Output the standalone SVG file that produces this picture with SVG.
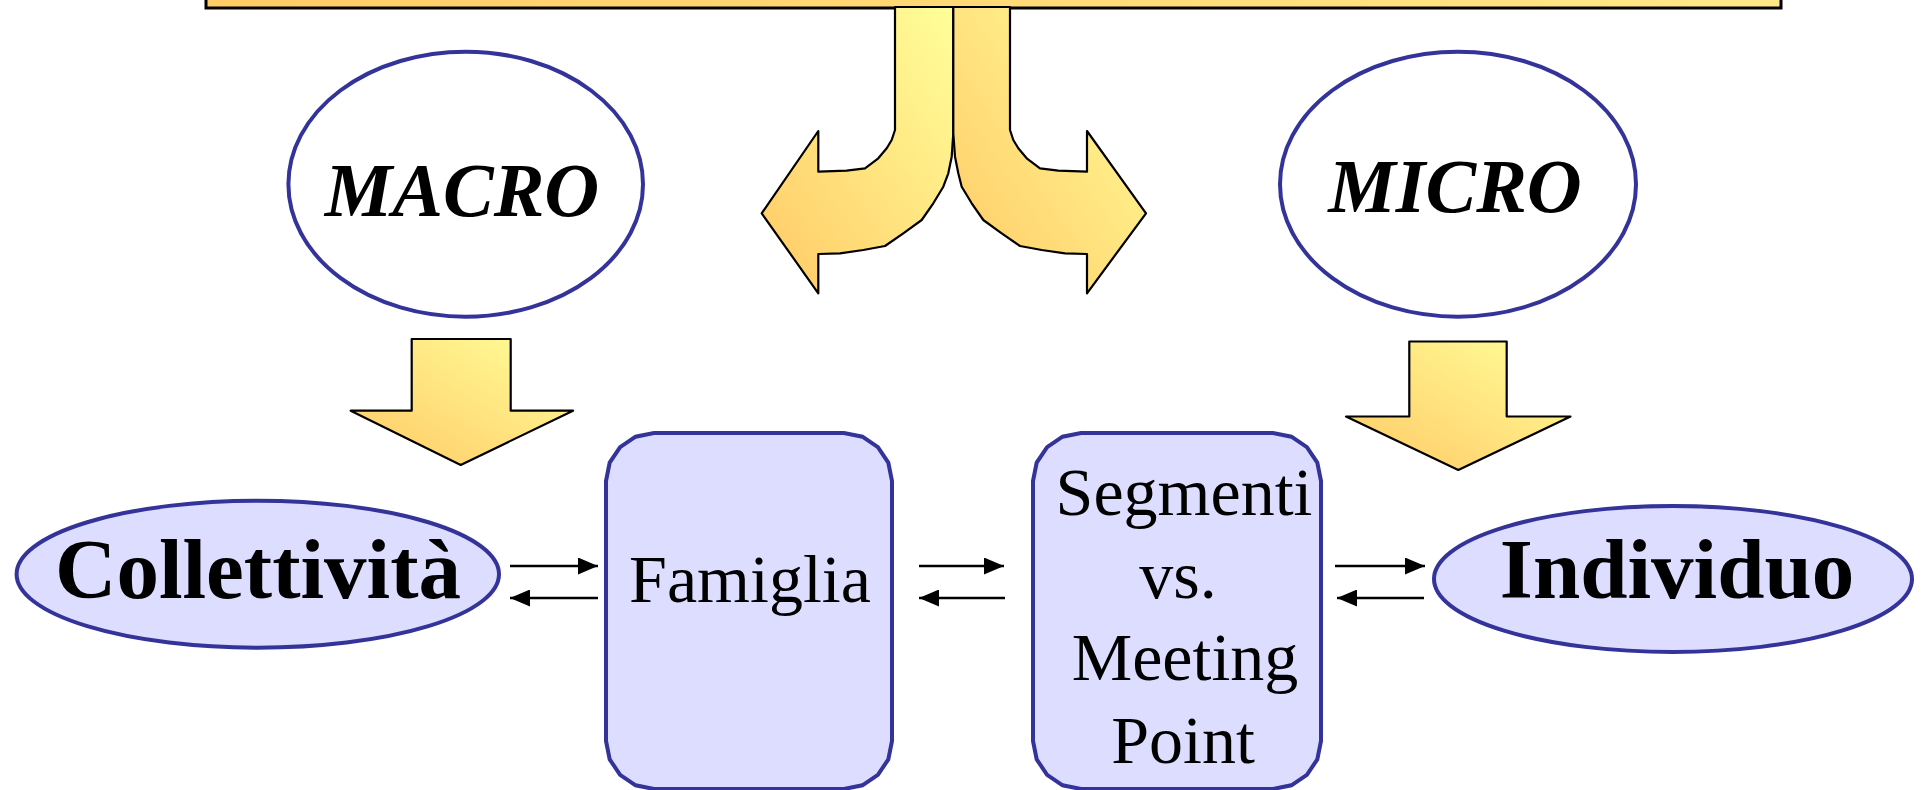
<svg xmlns="http://www.w3.org/2000/svg" width="1925" height="790" viewBox="0 0 1925 790">
  <defs>
    <linearGradient id="gold" x1="0" y1="1" x2="1" y2="0">
      <stop offset="0" stop-color="#FFC966"/>
      <stop offset="1" stop-color="#FFFF99"/>
    </linearGradient>
    <linearGradient id="barGold" x1="0" y1="0" x2="1" y2="0">
      <stop offset="0" stop-color="#FFCC66"/>
      <stop offset="1" stop-color="#FFE888"/>
    </linearGradient>
    <marker id="head" viewBox="0 0 20 17" refX="20" refY="8.5" markerWidth="20" markerHeight="17" markerUnits="userSpaceOnUse" orient="auto">
      <path d="M0,0 L20,8.5 L0,17 Z" fill="#000"/>
    </marker>
  </defs>
  <style>
    .gold { fill: url(#gold); stroke: #000; stroke-width: 2.2; stroke-linejoin: round; }
    .oval-white { fill: #FFFFFF; stroke: #333399; stroke-width: 4; }
    .oval-lav { fill: #DDDDFF; stroke: #333399; stroke-width: 4; }
    .box { fill: #DDDDFF; stroke: #333399; stroke-width: 4; }
    .label-it { font-family: "Liberation Serif", "Times New Roman", serif; font-style: italic; font-weight: bold; font-size: 76px; fill: #000; text-anchor: middle; }
    .label-big { font-family: "Liberation Serif", "Times New Roman", serif; font-weight: bold; font-size: 85px; fill: #000; text-anchor: middle; }
    .label-box { font-family: "Liberation Serif", "Times New Roman", serif; font-size: 68px; fill: #000; text-anchor: middle; }
    .conn { stroke: #000; stroke-width: 2.5; fill: none; marker-end: url(#head); }
  </style>

  <rect width="1925" height="790" fill="#FFFFFF"/>

  <!-- banner across the top edge -->
  <g id="top-bar">
    <rect x="206" y="-20" width="1575" height="28" fill="url(#barGold)" stroke="#000" stroke-width="3"/>
  </g>

  <!-- split arrow coming down from the banner -->
  <g id="split-left">
    <path class="gold" d="M895,7 L895,130 L891.7,140 L886.7,148.3 L878.3,158.3 L865,168.3 L846.7,170.7 L818.3,171.7 L818.3,131 L761.7,213.3 L818.3,293.3 L818.3,254 L840,253.3 L863.3,250 L885,246 L903.3,233.3 L921.7,220 L933.3,203.3 L943.3,186.7 L948.3,173.3 L951.7,156.7 L953.3,133.3 L953.3,7 Z"/>
  </g>
  <g id="split-right">
    <path class="gold" d="M1010,7 L1010,130 L1013.3,140 L1018.3,148.3 L1026.7,158.3 L1040,168.3 L1058.3,170.7 L1087,171.7 L1087,131 L1146,213.3 L1087,293.3 L1087,254 L1065,253.3 L1041.7,250 L1020,246 L1001.7,233.3 L983.3,220 L971.7,203.3 L961.7,186.7 L958.3,173.3 L955,156.7 L953.3,133.3 L953.3,7 Z"/>
  </g>

  <!-- MACRO -->
  <g id="macro">
    <ellipse class="oval-white" cx="465.7" cy="184.2" rx="177.3" ry="132.5"/>
    <text class="label-it" x="462" y="216">MACRO</text>
  </g>
  <g id="macro-arrow">
    <path class="gold" d="M411.7,339 L510.7,339 L510.7,410.7 L573,410.7 L460.7,465 L350.7,410.7 L411.7,410.7 Z"/>
  </g>

  <!-- MICRO -->
  <g id="micro">
    <ellipse class="oval-white" cx="1458" cy="184.2" rx="178" ry="132.5"/>
    <text class="label-it" x="1455" y="211.5">MICRO</text>
  </g>
  <g id="micro-arrow">
    <path class="gold" d="M1409.3,341.5 L1506.7,341.5 L1506.7,416.5 L1570.5,416.5 L1458.3,470 L1346,416.5 L1409.3,416.5 Z"/>
  </g>

  <!-- lower row -->
  <g id="collettivita">
    <ellipse class="oval-lav" cx="257.8" cy="574.2" rx="241.2" ry="73.5"/>
    <text class="label-big" x="258" y="598">Collettività</text>
  </g>

  <g id="famiglia">
    <path class="box" d="M606,481 L609.7,462.6 L620.1,447.1 L635.6,436.7 L654,433 L844,433 L862.4,436.7 L877.9,447.1 L888.3,462.6 L892,481 L892,741 L888.3,759.4 L877.9,774.9 L862.4,785.3 L844,789 L654,789 L635.6,785.3 L620.1,774.9 L609.7,759.4 L606,741 Z"/>
    <text class="label-box" x="750" y="601.5">Famiglia</text>
  </g>

  <g id="segmenti">
    <path class="box" d="M1033,481 L1036.7,462.6 L1047.1,447.1 L1062.6,436.7 L1081,433 L1273,433 L1291.4,436.7 L1306.9,447.1 L1317.3,462.6 L1321,481 L1321,741 L1317.3,759.4 L1306.9,774.9 L1291.4,785.3 L1273,789 L1081,789 L1062.6,785.3 L1047.1,774.9 L1036.7,759.4 L1033,741 Z"/>
    <text class="label-box" x="1184" y="515">Segmenti</text>
    <text class="label-box" x="1178" y="598">vs.</text>
    <text class="label-box" x="1185" y="680">Meeting</text>
    <text class="label-box" x="1183" y="763">Point</text>
  </g>

  <g id="individuo">
    <ellipse class="oval-lav" cx="1673" cy="579" rx="239" ry="73"/>
    <text class="label-big" x="1677" y="598">Individuo</text>
  </g>

  <!-- two-way connectors between neighbouring nodes -->
  <g id="connectors">
    <line class="conn" x1="510" y1="566" x2="598" y2="566"/>
    <line class="conn" x1="598" y1="598" x2="510" y2="598"/>
    <line class="conn" x1="919" y1="566" x2="1004" y2="566"/>
    <line class="conn" x1="1005" y1="598" x2="919" y2="598"/>
    <line class="conn" x1="1335" y1="566" x2="1425" y2="566"/>
    <line class="conn" x1="1424" y1="598" x2="1337" y2="598"/>
  </g>
</svg>
